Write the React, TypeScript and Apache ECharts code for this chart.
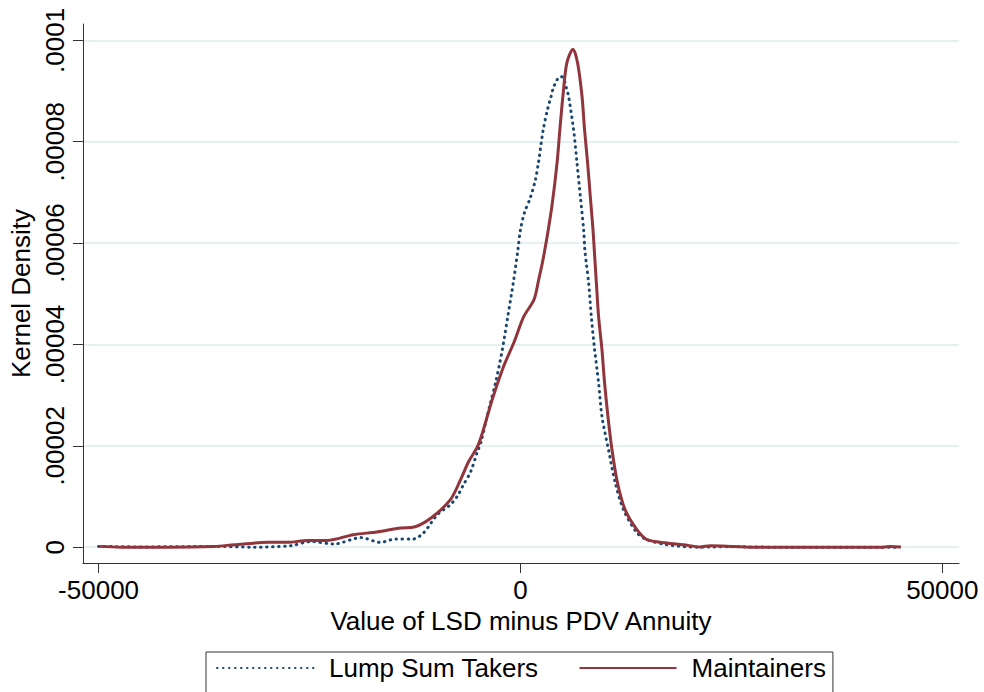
import React, { useEffect, useRef } from "react";
import * as echarts from "echarts";

// Maintainers (solid red): x = LSD minus PDV annuity, y = kernel density
const maintainersX = [
  -50000, -47300, -41800, -36300, -33900, -30000, -27600, -25200, -22900, -19800,
  -17000, -14200, -12600, -10600, -8300, -7100, -6150, -5100, -4500, -3350,
  -2000, -800, 400, 1600, 2160, 2600, 3160, 3750, 4340, 4670,
  5030, 5500, 6230, 6780, 7300, 7600, 7960, 8280, 8600, 8750,
  9000, 9260, 9660, 9970, 10370, 10850, 11500, 12400, 13800, 15000,
  17350, 19300, 21300, 22500, 25200, 27600, 43000, 43800, 45100,
];
const maintainersY = [
  0.016e-5, 0, 0, 0.016e-5, 0.049e-5, 0.095e-5, 0.095e-5, 0.134e-5, 0.134e-5, 0.247e-5,
  0.3e-5, 0.379e-5, 0.398e-5, 0.576e-5, 0.937e-5, 1.331e-5, 1.686e-5, 1.982e-5, 2.258e-5, 2.909e-5,
  3.566e-5, 4.028e-5, 4.552e-5, 4.882e-5, 5.276e-5, 5.611e-5, 6.124e-5, 6.756e-5, 7.584e-5, 8.235e-5,
  8.892e-5, 9.556e-5, 9.826e-5, 9.55e-5, 8.892e-5, 8.235e-5, 7.584e-5, 6.919e-5, 6.263e-5, 5.868e-5,
  5.217e-5, 4.552e-5, 3.896e-5, 3.245e-5, 2.58e-5, 1.923e-5, 1.272e-5, 0.74e-5, 0.345e-5, 0.148e-5,
  0.083e-5, 0.049e-5, 0.004e-5, 0.03e-5, 0.016e-5, 0, 0, 0.016e-5, 0.004e-5,
];

// Lump Sum Takers (dotted blue)
const lumpSumX = [
  -50000, -45000, -40000, -36300, -31600, -27200, -24800, -22100, -18900, -16600,
  -14800, -12700, -11500, -10600, -9850, -9100, -8300, -7500, -6750, -5900,
  -5100, -4700, -3950, -3550, -2950, -2150, -1500, -850, -300, 0,
  470, 1180, 1770, 2130, 2700, 3200, 3630, 3900, 4340, 4730,
  5090, 5440, 5710, 6300, 6700, 7100, 7490, 7630, 7800, 8080,
  8400, 8790, 9260, 9660, 10440, 11240, 12220, 13800, 15000, 17350,
  20900, 22500, 25200, 30000, 45000,
];
const lumpSumY = [
  0.016e-5, 0.005e-5, 0.01e-5, 0.016e-5, 0, 0.03e-5, 0.112e-5, 0.063e-5, 0.189e-5, 0.095e-5,
  0.162e-5, 0.162e-5, 0.28e-5, 0.477e-5, 0.641e-5, 0.74e-5, 0.838e-5, 1.002e-5, 1.233e-5, 1.489e-5,
  1.884e-5, 2.061e-5, 2.58e-5, 2.85e-5, 3.245e-5, 3.896e-5, 4.552e-5, 5.217e-5, 5.868e-5, 6.263e-5,
  6.598e-5, 6.899e-5, 7.249e-5, 7.584e-5, 8.235e-5, 8.63e-5, 8.892e-5, 9.063e-5, 9.221e-5, 9.286e-5,
  9.26e-5, 9.063e-5, 8.892e-5, 8.235e-5, 7.584e-5, 6.919e-5, 6.263e-5, 5.868e-5, 5.611e-5, 5.217e-5,
  4.552e-5, 3.896e-5, 3.245e-5, 2.58e-5, 1.923e-5, 1.272e-5, 0.74e-5, 0.286e-5, 0.148e-5, 0.049e-5,
  0, 0.004e-5, 0.01e-5, 0, 0,
];

const xTickValues = [-50000, 0, 50000];
const xTickLabels = ["-50000", "0", "50000"];
const yTickValues = [0, 0.00002, 0.00004, 0.00006, 0.00008, 0.0001];
const yTickLabels = ["0", ".00002", ".00004", ".00006", ".00008", ".0001"];

const seriesNames = ["Lump Sum Takers", "Maintainers"];
const xTitle = "Value of LSD minus PDV Annuity";
const yTitle = "Kernel Density";

const FONT = "'Liberation Sans', Arial, Helvetica, sans-serif";
const FS = 26;

function pick(values: number[], labels: string[], v: number) {
  let best = 0;
  for (let i = 0; i < values.length; i++) {
    if (Math.abs(values[i] - v) < Math.abs(values[best] - v)) best = i;
  }
  return labels[best];
}

export default function App() {
  const ref = useRef<HTMLDivElement>(null);
  useEffect(() => {
    if (!ref.current) return;
    const chart = echarts.init(ref.current, undefined, { renderer: "svg" });
    const blue = lumpSumX.map((x, i) => [x, lumpSumY[i]]);
    const red = maintainersX.map((x, i) => [x, maintainersY[i]]);
    chart.setOption({
      animation: false,
      backgroundColor: "#ffffff",
      grid: { left: 81, right: 25, top: 24, bottom: 129, containLabel: false },
      xAxis: {
        type: "value",
        min: -51860,
        max: 51980,
        name: xTitle,
        nameLocation: "middle",
        nameGap: 36,
        nameTextStyle: { fontSize: FS, color: "#000", fontFamily: FONT },
        axisLine: { show: true, onZero: false, lineStyle: { color: "#333", width: 1 } },
        axisTick: { show: true, length: 10, customValues: xTickValues, lineStyle: { color: "#333" } },
        axisLabel: {
          customValues: xTickValues,
          margin: 14,
          fontSize: FS,
          color: "#000",
          fontFamily: FONT,
          formatter: (v: number) => pick(xTickValues, xTickLabels, v),
        },
        splitLine: { show: false },
      },
      yAxis: {
        type: "value",
        min: -0.312e-5,
        max: 10.323e-5,
        name: yTitle,
        nameLocation: "middle",
        nameGap: 43,
        nameRotate: 90,
        nameTextStyle: { fontSize: FS, color: "#000", fontFamily: FONT },
        axisLine: { show: true, onZero: false, lineStyle: { color: "#333", width: 1 } },
        axisTick: { show: true, length: 10, customValues: yTickValues, lineStyle: { color: "#333" } },
        axisLabel: {
          customValues: yTickValues,
          rotate: 90,
          margin: 15,
          fontSize: FS,
          color: "#000",
          fontFamily: FONT,
          formatter: (v: number) => pick(yTickValues, yTickLabels, v),
        },
        splitLine: { show: true, lineStyle: { color: "#e6eff2", width: 2 } },
      },
      legend: {
        left: 206,
        top: 652,
        orient: "horizontal",
        itemWidth: 97,
        itemHeight: 26,
        itemGap: 40,
        padding: [3, 7, 40, 10],
        borderColor: "#333",
        borderWidth: 1,
        itemStyle: { opacity: 0, borderWidth: 0 },
        textStyle: { fontSize: FS, color: "#000", fontFamily: FONT, padding: [0, 0, 0, 10] },
        data: seriesNames,
      },
      series: [
        {
          name: seriesNames[0],
          type: "line",
          data: blue,
          symbol: "none",
          showSymbol: false,
          smooth: 0.3,
          lineStyle: { color: "#1a476f", width: 3, type: [0.5, 5.5], cap: "round" },
          itemStyle: { color: "#1a476f" },
          z: 2,
        },
        {
          name: seriesNames[1],
          type: "line",
          data: red,
          symbol: "none",
          showSymbol: false,
          smooth: 0.3,
          lineStyle: { color: "#90353b", width: 3 },
          itemStyle: { color: "#90353b" },
          z: 3,
        },
      ],
    });
    return () => chart.dispose();
  }, []);
  return (
    <div
      ref={ref}
      style={{ position: "fixed", left: 0, top: 0, width: 984, height: 692, background: "#fff" }}
    />
  );
}
